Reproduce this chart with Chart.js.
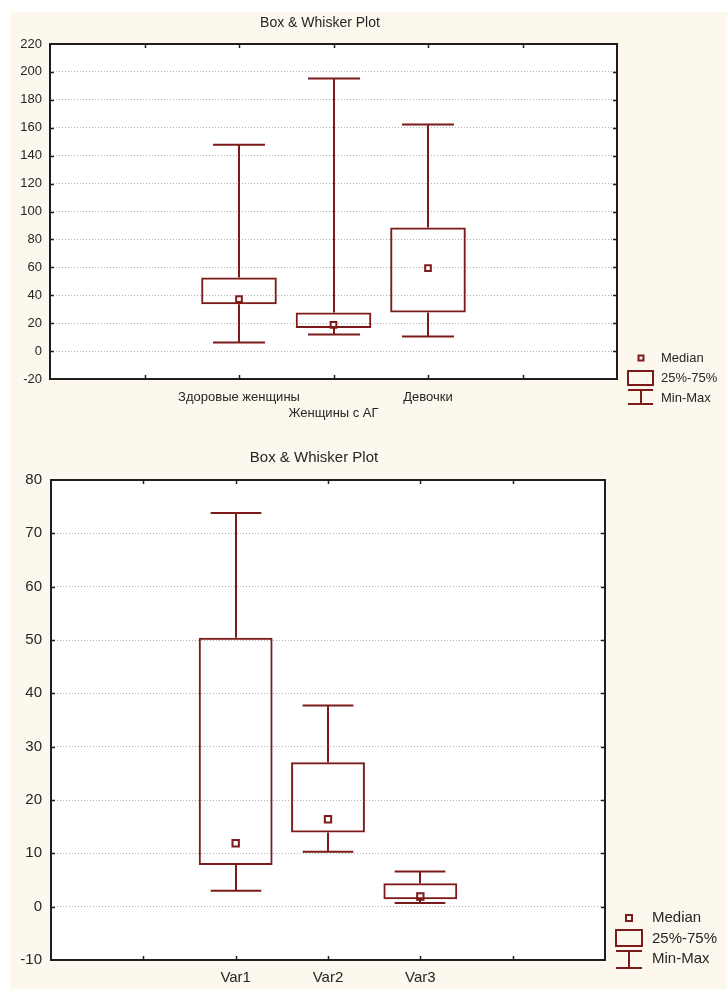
<!DOCTYPE html>
<html>
<head>
<meta charset="utf-8">
<title>Box & Whisker Plot</title>
<script src="https://cdn.jsdelivr.net/npm/chart.js@4.4.1/dist/chart.umd.min.js"></script>
<style>
  html, body { margin: 0; padding: 0; background: #fff; }
  .panel { position: absolute; left: 10px; width: 717px; background: #fdf8ed; }
  #panel1 { top: 12px; height: 423px; }
  #panel2 { top: 435px; height: 554px; }
  canvas { display: block; }
</style>
</head>
<body>
<div class="panel" id="panel1"><canvas id="chart1" width="717" height="423"></canvas></div>
<div class="panel" id="panel2"><canvas id="chart2" width="717" height="554"></canvas></div>
<script>
// Верхний график
const groups1 = ['Здоровые женщины', 'Женщины с АГ', 'Девочки'];
const min1 = [6.2, 11.9, 10.5];
const q25_1 = [33.6, 16.5, 27.7];
const median1 = [37.2, 18.8, 59.4];
const q75_1 = [52.7, 27.7, 88.5];
const max1 = [147.9, 195.3, 162.4];
const yTicks1 = [-20, 0, 20, 40, 60, 80, 100, 120, 140, 160, 180, 200, 220];

// Нижний график
const groups2 = ['Var1', 'Var2', 'Var3'];
const min2 = [3.0, 10.3, 0.7];
const q25_2 = [7.8, 13.9, 1.4];
const median2 = [11.9, 16.4, 1.9];
const q75_2 = [50.4, 27.1, 4.4];
const max2 = [73.8, 37.7, 6.6];
const yTicks2 = [-10, 0, 10, 20, 30, 40, 50, 60, 70, 80];

const legendLabels = ['Median', '25%-75%', 'Min-Max'];
const chartTitle = 'Box & Whisker Plot';

const MAROON = '#7d1a1a';
const INK = '#262626';
const FONT = '"Liberation Sans", Arial, sans-serif';

function boxChart(id, o) {
  const n = o.groups.length;
  const slot = i => i + 2; // группы стоят на позициях 2..4 оси 0..6

  const boxPlugin = {
    id: 'boxWhisker',
    beforeDraw(chart) {
      const a = chart.chartArea, ctx = chart.ctx;
      ctx.save();
      ctx.fillStyle = '#fff';
      ctx.fillRect(a.left, a.top, a.right - a.left, a.bottom - a.top);
      ctx.restore();
    },
    beforeDatasetsDraw(chart) {
      const x = chart.scales.x, y = chart.scales.y, ctx = chart.ctx;
      const cap = Math.abs(x.getPixelForValue(1) - x.getPixelForValue(0)) * 0.55 / 2;
      ctx.save();
      ctx.strokeStyle = MAROON;
      ctx.lineWidth = 2;
      for (let i = 0; i < n; i++) {
        const px = Math.round(x.getPixelForValue(slot(i)));
        const yMax = y.getPixelForValue(o.max[i]);
        const yMin = y.getPixelForValue(o.min[i]);
        ctx.beginPath();
        ctx.moveTo(px, yMax); ctx.lineTo(px, y.getPixelForValue(o.q75[i]));
        ctx.moveTo(px, y.getPixelForValue(o.q25[i])); ctx.lineTo(px, yMin);
        ctx.moveTo(px - cap, yMax); ctx.lineTo(px + cap, yMax);
        ctx.moveTo(px - cap, yMin); ctx.lineTo(px + cap, yMin);
        ctx.stroke();
      }
      ctx.restore();
    },
    afterDraw(chart) {
      const a = chart.chartArea, ctx = chart.ctx;
      const x = chart.scales.x, y = chart.scales.y;
      ctx.save();
      // рамка
      ctx.strokeStyle = '#1e1e1e';
      ctx.lineWidth = 2;
      ctx.strokeRect(a.left, a.top, a.right - a.left, a.bottom - a.top);
      // внутренние засечки
      ctx.lineWidth = 1.5;
      ctx.beginPath();
      x.ticks.forEach(t => {
        if (t.value <= x.min || t.value >= x.max) return;
        const px = Math.round(x.getPixelForValue(t.value)) + 0.5;
        ctx.moveTo(px, a.top); ctx.lineTo(px, a.top + 4);
        ctx.moveTo(px, a.bottom); ctx.lineTo(px, a.bottom - 4);
      });
      y.ticks.forEach(t => {
        if (t.value <= y.min || t.value >= y.max) return;
        const py = Math.round(y.getPixelForValue(t.value)) + 0.5;
        ctx.moveTo(a.left, py); ctx.lineTo(a.left + 4, py);
        ctx.moveTo(a.right, py); ctx.lineTo(a.right - 4, py);
      });
      ctx.stroke();

      // заголовок
      ctx.fillStyle = INK;
      ctx.font = o.titleSize + 'px ' + FONT;
      ctx.textAlign = 'center';
      ctx.textBaseline = 'middle';
      ctx.fillText(chartTitle, o.titleX, o.titleY);

      // легенда
      const L = o.legend;
      ctx.strokeStyle = MAROON;
      ctx.lineWidth = 2;
      const ms = L.markSize;
      ctx.strokeRect(L.cx - ms / 2, L.medianY - ms / 2, ms, ms);
      ctx.strokeRect(L.x, L.boxTop, L.w, L.boxBottom - L.boxTop);
      ctx.beginPath();
      ctx.moveTo(L.x, L.capTop); ctx.lineTo(L.x + L.w, L.capTop);
      ctx.moveTo(L.cx, L.capTop); ctx.lineTo(L.cx, L.capBottom);
      ctx.moveTo(L.x, L.capBottom); ctx.lineTo(L.x + L.w, L.capBottom);
      ctx.stroke();
      ctx.fillStyle = INK;
      ctx.font = L.size + 'px ' + FONT;
      ctx.textAlign = 'left';
      legendLabels.forEach((s, k) => ctx.fillText(s, L.textX, L.textY[k]));
      ctx.restore();
    }
  };

  const tickFont = { family: FONT, size: o.fontSize, lineHeight: o.lineHeight };

  return new Chart(document.getElementById(id), {
    type: 'bar',
    data: {
      datasets: [
        {
          type: 'bar',
          data: o.groups.map((g, i) => ({ x: slot(i), y: [o.q25[i], o.q75[i]] })),
          backgroundColor: 'rgba(255,255,255,0)',
          borderColor: MAROON,
          borderWidth: 2,
          borderSkipped: false,
          barPercentage: 0.8,
          categoryPercentage: 1
        },
        {
          type: 'scatter',
          data: o.groups.map((g, i) => ({ x: slot(i), y: o.median[i] })),
          pointStyle: 'rect',
          pointRadius: o.medianR,
          borderColor: MAROON,
          borderWidth: 2,
          backgroundColor: '#fff'
        }
      ]
    },
    options: {
      responsive: false,
      animation: false,
      events: [],
      layout: { padding: { top: o.padTop, right: o.padRight, left: 0, bottom: 0 } },
      plugins: { legend: { display: false }, tooltip: { enabled: false }, title: { display: false } },
      scales: {
        x: {
          type: 'linear', min: 0, max: 6, offset: false,
          afterFit: s => { s.height = o.xAxisH; },
          grid: { display: false, offset: false, drawTicks: false },
          border: { display: false },
          ticks: {
            stepSize: 1, autoSkip: false, maxRotation: 0, padding: o.xPad,
            color: INK, font: tickFont,
            callback: v => {
              const i = v - 2;
              if (i < 0 || i >= n) return '';
              return (o.stagger && i % 2 === 1) ? ['', o.groups[i]] : o.groups[i];
            }
          }
        },
        y: {
          min: o.yTicks[0], max: o.yTicks[o.yTicks.length - 1],
          afterFit: s => { s.width = o.yAxisW; },
          grid: { color: '#b0b0b0', lineWidth: 1, drawTicks: false },
          border: { display: false, dash: [1, 2] },
          ticks: {
            stepSize: o.yTicks[1] - o.yTicks[0], padding: o.yPad,
            color: INK, font: { family: FONT, size: o.yFontSize }
          }
        }
      }
    },
    plugins: [boxPlugin]
  });
}

boxChart('chart1', {
  groups: groups1, min: min1, q25: q25_1, median: median1, q75: q75_1, max: max1, yTicks: yTicks1,
  padTop: 32, padRight: 110, xAxisH: 56, yAxisW: 40, xPad: 10, yPad: 8,
  fontSize: 13, lineHeight: 1.25, yFontSize: 13, stagger: true, medianR: 4,
  titleX: 310, titleY: 11, titleSize: 14,
  legend: { x: 618, w: 25, cx: 631, medianY: 346, markSize: 5, boxTop: 359, boxBottom: 373,
            capTop: 378, capBottom: 392, textX: 651, textY: [346, 366, 386], size: 13 }
});

boxChart('chart2', {
  groups: groups2, min: min2, q25: q25_2, median: median2, q75: q75_2, max: max2, yTicks: yTicks2,
  padTop: 45, padRight: 122, xAxisH: 29, yAxisW: 41, xPad: 9, yPad: 9,
  fontSize: 15, lineHeight: 1.2, yFontSize: 15, stagger: false, medianR: 4.5,
  titleX: 304, titleY: 23, titleSize: 15,
  legend: { x: 606, w: 26, cx: 619, medianY: 483, markSize: 6, boxTop: 495, boxBottom: 511,
            capTop: 516, capBottom: 533, textX: 642, textY: [483, 504, 524], size: 15 }
});
</script>
</body>
</html>
